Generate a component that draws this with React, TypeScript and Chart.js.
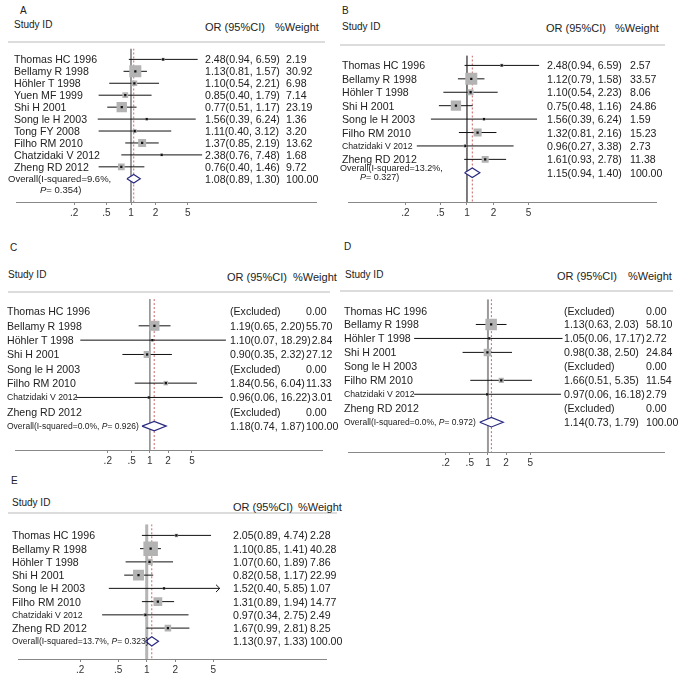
import React, { useEffect, useRef, useState } from "react";
import { Chart, registerables } from "chart.js";

Chart.register(...registerables);

const FONT = '"Liberation Sans", Arial, Helvetica, sans-serif';
const TEXT = "#222";

// ---------- shared axis ticks ----------
const tickValues = [0.2, 0.5, 1, 2, 5];
const tickLabels = [".2", ".5", "1", "2", "5"];

// ---------- Panel A ----------
const studiesA = ["Thomas HC 1996", "Bellamy R 1998", "Höhler T 1998", "Yuen MF 1999", "Shi H 2001", "Song le H 2003", "Tong FY 2008", "Filho RM 2010", "Chatzidaki V 2012", "Zheng RD 2012"];
const orA = [2.48, 1.13, 1.10, 0.85, 0.77, 1.56, 1.11, 1.37, 2.38, 0.76];
const lowA = [0.94, 0.81, 0.54, 0.40, 0.51, 0.39, 0.40, 0.85, 0.76, 0.40];
const highA = [6.59, 1.57, 2.21, 1.79, 1.17, 6.24, 3.12, 2.19, 7.48, 1.46];
const weightA = [2.19, 30.92, 6.98, 7.14, 23.19, 1.36, 3.20, 13.62, 1.68, 9.72];
const overallA = [1.08, 0.89, 1.30];
const i2A = "9.6%";
const pA = "0.354";

// ---------- Panel B ----------
const studiesB = ["Thomas HC 1996", "Bellamy R 1998", "Höhler T 1998", "Shi H 2001", "Song le H 2003", "Filho RM 2010", "Chatzidaki V 2012", "Zheng RD 2012"];
const orB = [2.48, 1.12, 1.10, 0.75, 1.56, 1.32, 0.96, 1.61];
const lowB = [0.94, 0.79, 0.54, 0.48, 0.39, 0.81, 0.27, 0.93];
const highB = [6.59, 1.58, 2.23, 1.16, 6.24, 2.16, 3.38, 2.78];
const weightB = [2.57, 33.57, 8.06, 24.86, 1.59, 15.23, 2.73, 11.38];
const overallB = [1.15, 0.94, 1.40];
const i2B = "13.2%";
const pB = "0.327";

// ---------- Panel C ----------
const studiesC = ["Thomas HC 1996", "Bellamy R 1998", "Höhler T 1998", "Shi H 2001", "Song le H 2003", "Filho RM 2010", "Chatzidaki V 2012", "Zheng RD 2012"];
const orC = [null, 1.19, 1.10, 0.90, null, 1.84, 0.96, null];
const lowC = [null, 0.65, 0.07, 0.35, null, 0.56, 0.06, null];
const highC = [null, 2.20, 18.29, 2.32, null, 6.04, 16.22, null];
const weightC = [0.00, 55.70, 2.84, 27.12, 0.00, 11.33, 3.01, 0.00];
const overallC = [1.18, 0.74, 1.87];
const i2C = "0.0%";
const pC = "0.926";

// ---------- Panel D ----------
const studiesD = ["Thomas HC 1996", "Bellamy R 1998", "Höhler T 1998", "Shi H 2001", "Song le H 2003", "Filho RM 2010", "Chatzidaki V 2012", "Zheng RD 2012"];
const orD = [null, 1.13, 1.05, 0.98, null, 1.66, 0.97, null];
const lowD = [null, 0.63, 0.06, 0.38, null, 0.51, 0.06, null];
const highD = [null, 2.03, 17.17, 2.50, null, 5.35, 16.18, null];
const weightD = [0.00, 58.10, 2.72, 24.84, 0.00, 11.54, 2.79, 0.00];
const overallD = [1.14, 0.73, 1.79];
const i2D = "0.0%";
const pD = "0.972";

// ---------- Panel E ----------
const studiesE = ["Thomas HC 1996", "Bellamy R 1998", "Höhler T 1998", "Shi H 2001", "Song le H 2003", "Filho RM 2010", "Chatzidaki V 2012", "Zheng RD 2012"];
const orE = [2.05, 1.10, 1.07, 0.82, 1.52, 1.31, 0.97, 1.67];
const lowE = [0.89, 0.85, 0.60, 0.58, 0.40, 0.89, 0.34, 0.99];
const highE = [4.74, 1.41, 1.89, 1.17, 5.85, 1.94, 2.75, 2.81];
const weightE = [2.28, 40.28, 7.86, 22.99, 1.07, 14.77, 2.49, 8.25];
const overallE = [1.13, 0.97, 1.33];
const i2E = "13.7%";
const pE = "0.323";
const arrowRowsE = [4];

type Num = number | null;
type PanelCfg = {
  letter: string;
  studies: string[];
  or: Num[];
  low: Num[];
  high: Num[];
  weight: number[];
  overall: number[];
  i2: string;
  p: string;
  arrows?: number[];
  letterPos: [number, number];
  idPos: [number, number];
  orHeadPos: [number, number];
  wHeadPos: [number, number];
  sep: [number, number, number];
  chartLeft: number;
  chartWidth: number;
  chartTop: number;
  chartBottom: number;
  rowFirst: number;
  rowStep: number;
  center: number;
  ppd: number;
  nameX: number;
  orX: number;
  wX: number;
  smallChatz: boolean;
  overallTwoLine: boolean;
  ovSize: number;
  ov1Dy: number;
  ov2X: number;
  ov2Dy: number;
  maxBox: number;
  refColor: string;
  refWidth: number;
  diamondHalf: number;
};

const AXIS_H = 19;
const MAIN = 10.6;

const fmt2 = (v: number) => v.toFixed(2);
const ciText = (o: Num, l: Num, h: Num) =>
  o == null || l == null || h == null ? "(Excluded)" : `${fmt2(o)}(${fmt2(l)}, ${fmt2(h)})`;

const panels: PanelCfg[] = [
  {
    letter: "A", studies: studiesA, or: orA, low: lowA, high: highA, weight: weightA, overall: overallA, i2: i2A, p: pA,
    letterPos: [20, 11], idPos: [14, 25], orHeadPos: [205, 27], wHeadPos: [275, 27], sep: [8, 325, 42],
    chartLeft: 8, chartWidth: 317, chartTop: 40, chartBottom: 202, rowFirst: 51.5, rowStep: 12.6, center: 129, ppd: 86,
    nameX: 14, orX: 205, wX: 285, smallChatz: false, overallTwoLine: true, ovSize: 9.5, ov1Dy: 0, ov2X: 40, ov2Dy: 11.5,
    maxBox: 12, refColor: "#9a9a9a", refWidth: 2, diamondHalf: 4.5,
  },
  {
    letter: "B", studies: studiesB, or: orB, low: lowB, high: highB, weight: weightB, overall: overallB, i2: i2B, p: pB,
    letterPos: [342, 11], idPos: [342, 27], orHeadPos: [546, 28], wHeadPos: [615, 28], sep: [340, 665, 45],
    chartLeft: 340, chartWidth: 325, chartTop: 47, chartBottom: 202, rowFirst: 57.5, rowStep: 14.2, center: 465, ppd: 93,
    nameX: 342, orX: 547, wX: 629, smallChatz: true, overallTwoLine: true, ovSize: 9, ov1Dy: -5, ov2X: 360, ov2Dy: 4.5,
    maxBox: 12, refColor: "#6a6a6a", refWidth: 1, diamondHalf: 5,
  },
  {
    letter: "C", studies: studiesC, or: orC, low: lowC, high: highC, weight: weightC, overall: overallC, i2: i2C, p: pC,
    letterPos: [10, 248], idPos: [8, 275], orHeadPos: [227, 277], wHeadPos: [293, 277], sep: [8, 330, 292],
    chartLeft: 8, chartWidth: 322, chartTop: 292, chartBottom: 450, rowFirst: 305, rowStep: 15, center: 149, ppd: 63,
    nameX: 7, orX: 230, wX: 305, smallChatz: true, overallTwoLine: false, ovSize: 8.5, ov1Dy: 0, ov2X: 0, ov2Dy: 0,
    maxBox: 10, refColor: "#8a8a8a", refWidth: 1.5, diamondHalf: 5,
  },
  {
    letter: "D", studies: studiesD, or: orD, low: lowD, high: highD, weight: weightD, overall: overallD, i2: i2D, p: pD,
    letterPos: [344, 247], idPos: [345, 275], orHeadPos: [557, 276], wHeadPos: [628, 276], sep: [340, 673, 291],
    chartLeft: 340, chartWidth: 333, chartTop: 291, chartBottom: 452, rowFirst: 303, rowStep: 14.7, center: 487, ppd: 63.5,
    nameX: 344, orX: 564, wX: 645, smallChatz: true, overallTwoLine: false, ovSize: 8.5, ov1Dy: 0, ov2X: 0, ov2Dy: 0,
    maxBox: 11.5, refColor: "#9a9a9a", refWidth: 2, diamondHalf: 5,
  },
  {
    letter: "E", studies: studiesE, or: orE, low: lowE, high: highE, weight: weightE, overall: overallE, i2: i2E, p: pE, arrows: arrowRowsE,
    letterPos: [11, 481], idPos: [12, 503], orHeadPos: [233, 507], wHeadPos: [298, 507], sep: [8, 337, 513],
    chartLeft: 8, chartWidth: 329, chartTop: 514, chartBottom: 659, rowFirst: 526, rowStep: 14.25, center: 145, ppd: 101.5,
    nameX: 12, orX: 233, wX: 309, smallChatz: true, overallTwoLine: false, ovSize: 8.5, ov1Dy: 0, ov2X: 0, ov2Dy: 0,
    maxBox: 14.5, refColor: "#b5b5b5", refWidth: 3, diamondHalf: 5,
  },
];

function Txt(props: { x: number; y: number; size?: number; children: React.ReactNode; style?: React.CSSProperties }) {
  return (
    <div
      style={{
        position: "absolute",
        left: props.x,
        top: props.y,
        transform: "translateY(-50%)",
        fontSize: props.size ?? MAIN,
        lineHeight: 1,
        whiteSpace: "nowrap",
        fontFamily: FONT,
        color: TEXT,
        ...props.style,
      }}
    >
      {props.children}
    </div>
  );
}

function Panel({ cfg }: { cfg: PanelCfg }) {
  const ref = useRef<HTMLCanvasElement>(null);
  const n = cfg.studies.length;
  const fallback = Array.from({ length: n + 1 }, (_, i) => cfg.rowFirst + cfg.rowStep * i);
  const [rowsY, setRowsY] = useState<number[]>(fallback);
  const canvasH = cfg.chartBottom - cfg.chartTop + AXIS_H;

  useEffect(() => {
    if (!ref.current) return;
    const yMin = (cfg.chartTop - cfg.rowFirst) / cfg.rowStep;
    const yMax = (cfg.chartBottom - cfg.rowFirst) / cfg.rowStep;
    const xMin = Math.pow(10, (cfg.chartLeft - cfg.center) / cfg.ppd);
    const xMax = Math.pow(10, (cfg.chartLeft + cfg.chartWidth - cfg.center) / cfg.ppd);
    const wmax = Math.max(...cfg.weight);
    const datasets: any[] = [];

    // reference line at OR = 1
    datasets.push({
      type: "line",
      data: [{ x: 1, y: yMin }, { x: 1, y: yMax }],
      borderColor: cfg.refColor,
      borderWidth: cfg.refWidth,
      pointRadius: 0,
      fill: false,
      order: 30,
    });
    // dashed line at overall estimate
    datasets.push({
      type: "line",
      data: [{ x: cfg.overall[0], y: yMin }, { x: cfg.overall[0], y: yMax }],
      borderColor: "#cc6666",
      borderWidth: 1,
      borderDash: [2, 2],
      pointRadius: 0,
      fill: false,
      order: 29,
    });
    // CI lines
    cfg.studies.forEach((_, i) => {
      const l = cfg.low[i];
      const h = cfg.high[i];
      if (l == null || h == null) return;
      datasets.push({
        type: "line",
        data: [{ x: l, y: i }, { x: h, y: i }],
        borderColor: "#111",
        borderWidth: 1,
        pointRadius: 0,
        fill: false,
        order: 20,
      });
    });
    // arrows
    (cfg.arrows || []).forEach((i) => {
      const h = cfg.high[i];
      if (h == null) return;
      const back = h / Math.pow(10, 4 / cfg.ppd);
      const dy = 4 / cfg.rowStep;
      datasets.push({
        type: "line",
        data: [{ x: back, y: i - dy }, { x: h, y: i }, { x: back, y: i + dy }],
        borderColor: "#111",
        borderWidth: 1,
        pointRadius: 0,
        fill: false,
        order: 19,
      });
    });
    // weight squares
    const sqData: { x: number; y: number }[] = [];
    const sqR: number[] = [];
    cfg.studies.forEach((_, i) => {
      const o = cfg.or[i];
      if (o == null) return;
      sqData.push({ x: o, y: i });
      const side = cfg.maxBox * Math.sqrt(cfg.weight[i] / wmax);
      sqR.push(side / Math.SQRT2);
    });
    datasets.push({
      type: "scatter",
      data: sqData,
      pointStyle: "rect",
      pointRadius: sqR,
      backgroundColor: "#b3b3b3",
      borderWidth: 0,
      order: 10,
    });
    // point estimate dots
    datasets.push({
      type: "scatter",
      data: sqData,
      pointStyle: "rect",
      pointRadius: 1.6,
      backgroundColor: "#111",
      borderWidth: 0,
      order: 5,
    });
    // overall diamond
    const hd = cfg.diamondHalf / cfg.rowStep;
    const [oo, ol, oh] = cfg.overall;
    datasets.push({
      type: "line",
      data: [
        { x: ol, y: n },
        { x: oo, y: n - hd },
        { x: oh, y: n },
        { x: oo, y: n + hd },
        { x: ol, y: n },
      ],
      borderColor: "#2a2a80",
      borderWidth: 1.2,
      backgroundColor: "#ffffff",
      fill: "shape",
      pointRadius: 0,
      tension: 0,
      order: 1,
    });

    const chart = new Chart(ref.current, {
      type: "scatter",
      data: { datasets },
      options: {
        animation: false,
        responsive: false,
        devicePixelRatio: 1,
        events: [],
        layout: { padding: 0 },
        plugins: { legend: { display: false }, tooltip: { enabled: false }, title: { display: false } },
        scales: {
          x: {
            type: "logarithmic",
            min: xMin,
            max: xMax,
            afterBuildTicks: (axis: any) => {
              axis.ticks = tickValues.map((v) => ({ value: v }));
            },
            ticks: {
              autoSkip: false,
              maxRotation: 0,
              padding: 2,
              color: "#333",
              font: { family: FONT, size: 10 },
              callback: (_v: any, idx: number) => tickLabels[idx],
            },
            grid: { drawOnChartArea: false, drawTicks: true, tickLength: 3, color: "#888" },
            border: { display: true, color: "#888", width: 1 },
          },
          y: { type: "linear", min: yMin, max: yMax, reverse: true, display: false },
        },
      } as any,
    });

    const ys: number[] = [];
    for (let i = 0; i <= n; i++) ys.push(cfg.chartTop + chart.scales.y.getPixelForValue(i));
    setRowsY(ys);
    return () => chart.destroy();
  }, []);

  const ovY = rowsY[n];
  const ov1X = cfg.overallTwoLine ? Math.max(cfg.chartLeft, cfg.nameX - 6) : cfg.nameX;
  return (
    <>
      <div
        style={{
          position: "absolute",
          left: cfg.sep[0],
          top: cfg.sep[2] - 1,
          width: cfg.sep[1] - cfg.sep[0],
          height: 2,
          background: "#dcdcdc",
        }}
      />
      <canvas
        ref={ref}
        width={cfg.chartWidth}
        height={canvasH}
        style={{ position: "absolute", left: cfg.chartLeft, top: cfg.chartTop, width: cfg.chartWidth, height: canvasH, display: "block" }}
      />
      <Txt x={cfg.letterPos[0]} y={cfg.letterPos[1]} size={10}>{cfg.letter}</Txt>
      <Txt x={cfg.idPos[0]} y={cfg.idPos[1]} size={10}>Study ID</Txt>
      <Txt x={cfg.orHeadPos[0]} y={cfg.orHeadPos[1]} size={11}>OR (95%CI)</Txt>
      <Txt x={cfg.wHeadPos[0]} y={cfg.wHeadPos[1]} size={11}>%Weight</Txt>
      {cfg.studies.map((s, i) => {
        const small = cfg.smallChatz && s.startsWith("Chatzidaki");
        return (
          <React.Fragment key={s}>
            <Txt x={cfg.nameX} y={rowsY[i]} size={small ? 8.7 : MAIN}>{s}</Txt>
            <Txt x={cfg.orX} y={rowsY[i]} style={{ display: "flex" }}>
              <span style={{ minWidth: cfg.wX - cfg.orX, display: "inline-block" }}>{ciText(cfg.or[i], cfg.low[i], cfg.high[i])}</span>
              <span style={{ paddingLeft: 1 }}>{fmt2(cfg.weight[i])}</span>
            </Txt>
          </React.Fragment>
        );
      })}
      {cfg.overallTwoLine ? (
        <>
          <Txt x={ov1X} y={ovY + cfg.ov1Dy} size={cfg.ovSize}>
            {`Overall(I-squared=${cfg.i2},`}
          </Txt>
          <Txt x={cfg.ov2X} y={ovY + cfg.ov2Dy} size={cfg.ovSize}>
            <i>P</i>{`= ${cfg.p})`}
          </Txt>
        </>
      ) : (
        <Txt x={ov1X} y={ovY} size={cfg.ovSize}>
          {`Overall(I-squared=${cfg.i2}, `}<i>P</i>{`= ${cfg.p})`}
        </Txt>
      )}
      <Txt x={cfg.orX} y={ovY} style={{ display: "flex" }}>
        <span style={{ minWidth: cfg.wX - cfg.orX, display: "inline-block" }}>{ciText(cfg.overall[0], cfg.overall[1], cfg.overall[2])}</span>
        <span style={{ paddingLeft: 1 }}>100.00</span>
      </Txt>
    </>
  );
}

export default function App() {
  return (
    <div style={{ position: "absolute", left: 0, top: 0, width: 683, height: 688, background: "#fff", overflow: "hidden" }}>
      {panels.map((p) => (
        <Panel key={p.letter} cfg={p} />
      ))}
    </div>
  );
}
